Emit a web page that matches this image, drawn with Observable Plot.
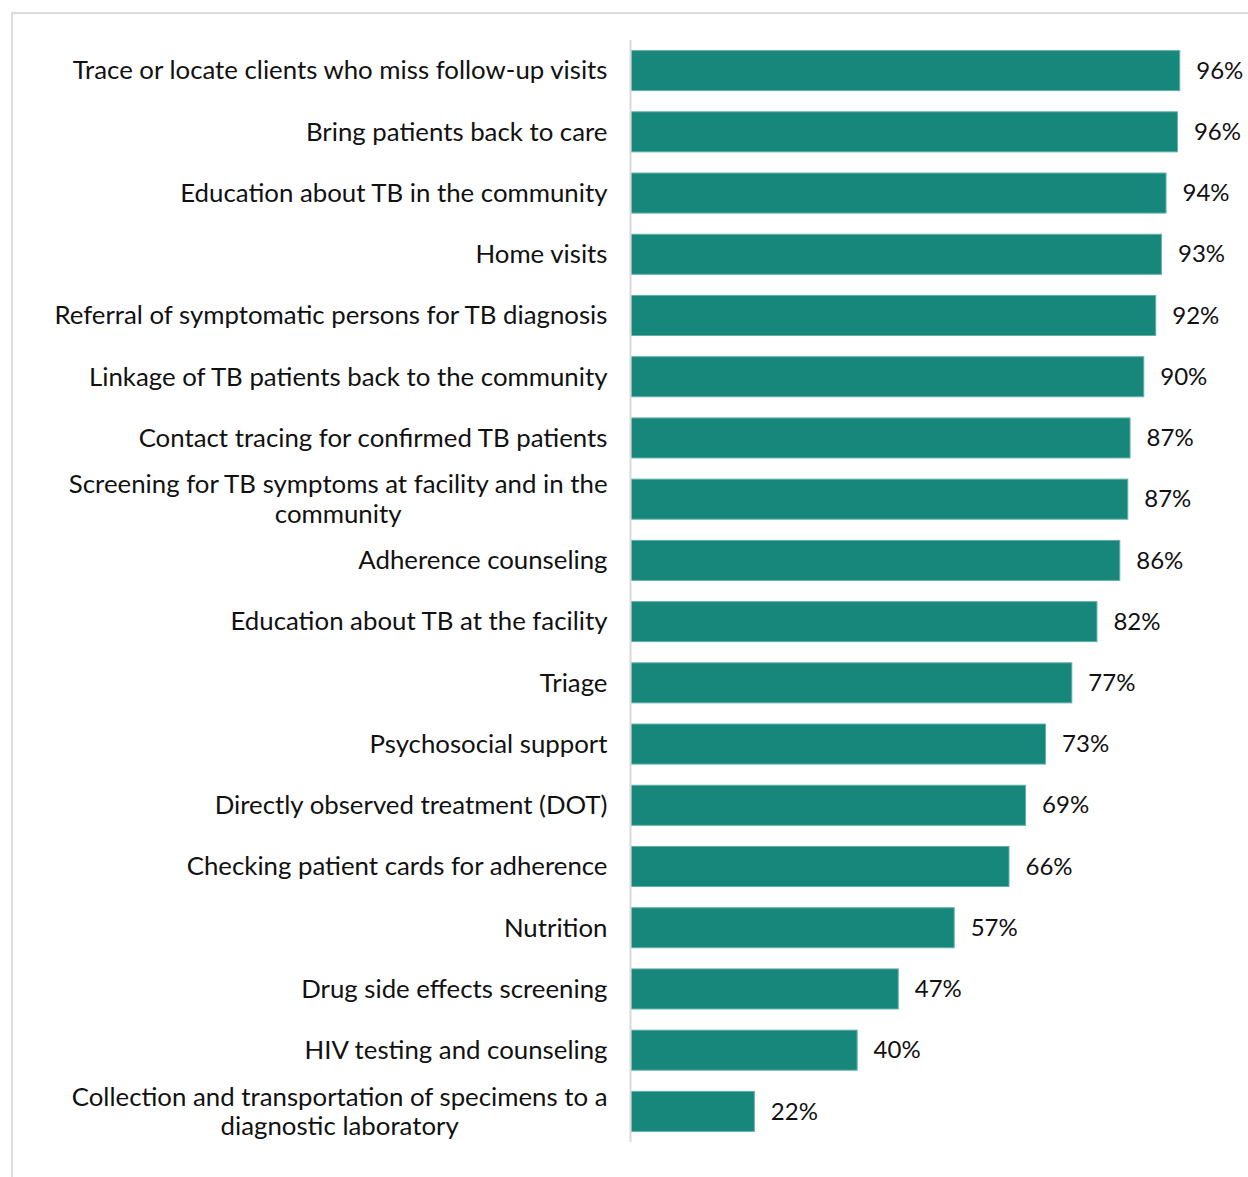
<!DOCTYPE html>
<html>
<head>
<meta charset="utf-8">
<script src="https://cdn.jsdelivr.net/npm/d3@7"></script>
<script src="https://cdn.jsdelivr.net/npm/@observablehq/plot@0.6"></script>
<style>
  html, body { margin: 0; padding: 0; background: #fff; }
  #wrap { position: relative; width: 1248px; height: 1177px; overflow: hidden; }
  #frame { position: absolute; left: 11px; top: 12px; width: 1300px; height: 1300px;
           border-top: 2px solid #dcdcdc; border-left: 2px solid #dcdcdc; box-sizing: border-box; }
  #chart { position: absolute; left: 0; top: 0; }
</style>
</head>
<body>
<div id="wrap">
  <div id="frame"></div>
  <div id="chart"></div>
</div>
<script>
const categories = [
  "Trace or locate clients who miss follow-up visits",
  "Bring patients back to care",
  "Education about TB in the community",
  "Home visits",
  "Referral of symptomatic persons for TB diagnosis",
  "Linkage of TB patients back to the community",
  "Contact tracing for confirmed TB patients",
  "Screening for TB symptoms at facility and in the\ncommunity",
  "Adherence counseling",
  "Education about TB at the facility",
  "Triage",
  "Psychosocial support",
  "Directly observed treatment (DOT)",
  "Checking patient cards for adherence",
  "Nutrition",
  "Drug side effects screening",
  "HIV testing and counseling",
  "Collection and transportation of specimens to a\ndiagnostic laboratory"
];
const values = [96.1, 95.7, 93.7, 92.9, 91.9, 89.8, 87.4, 87.0, 85.6, 81.6, 77.2, 72.6, 69.1, 66.2, 56.6, 46.8, 39.6, 21.6];
const valueLabels = ["96%", "96%", "94%", "93%", "92%", "90%", "87%", "87%", "86%", "82%", "77%", "73%", "69%", "66%", "57%", "47%", "40%", "22%"];

const data = categories.map((c, i) => ({category: c, value: values[i], label: valueLabels[i]}));

const FONT = "Lato, 'Open Sans', sans-serif";
const chart = Plot.plot({
  width: 1248,
  height: 1177,
  marginLeft: 631,
  marginRight: 46,
  marginTop: 40,
  marginBottom: 35,
  style: {fontFamily: FONT, fontSize: "24px", color: "#111", background: "transparent"},
  x: {domain: [0, 100], axis: null},
  y: {domain: categories, axis: null, paddingInner: 0.346, paddingOuter: 0.173, round: false},
  marks: [
    Plot.barX(data, {x: "value", y: "category", fill: "#17877b", stroke: "#62b0a7", strokeWidth: 1}),
    Plot.ruleX([0], {stroke: "#d9d9d9", strokeWidth: 2, dx: -1}),
    Plot.text(data, {x: "value", y: "category", text: "label", dx: 16, textAnchor: "start", fill: "#111", fontSize: 24}),
    Plot.text(data, {y: "category", text: "category", frameAnchor: "left", dx: -24, dy: -1, textAnchor: "end",
                     lineHeight: 1.13, fill: "#111", fontSize: 25.8})
  ]
});
document.getElementById("chart").appendChild(chart);

// Centre multi-line category labels (wrapped labels are centred in the reference)
chart.querySelectorAll("text").forEach(t => {
  const spans = t.querySelectorAll("tspan");
  if (spans.length > 1) {
    let w = 0;
    spans.forEach(s => { w = Math.max(w, s.getComputedTextLength()); });
    t.setAttribute("text-anchor", "middle");
    spans.forEach(s => s.setAttribute("x", -w / 2));
  }
});
</script>
</body>
</html>
